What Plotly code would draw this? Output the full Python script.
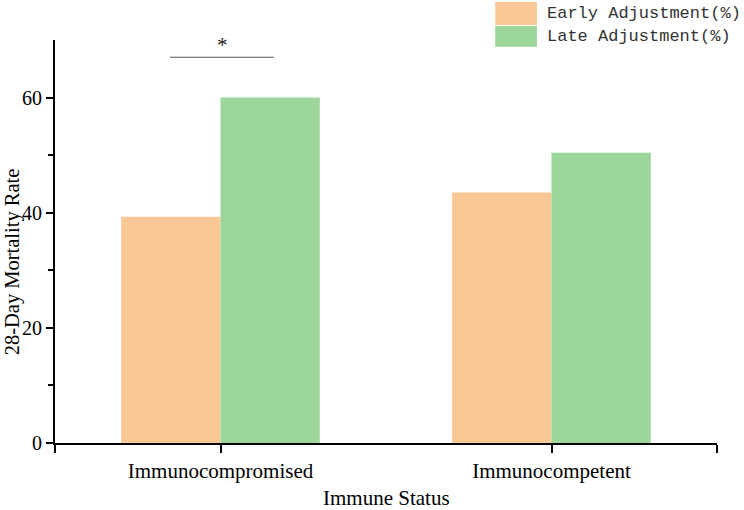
import plotly.graph_objects as go

categories = ["Immunocompromised", "Immunocompetent"]
early = [39.3, 43.5]
late = [60.0, 50.4]
series_names = ["Early Adjustment(%)", "Late Adjustment(%)"]
colors = ["#FAC896", "#9DD69A"]

fig = go.Figure()
fig.add_bar(x=categories, y=early, name=series_names[0], marker=dict(color=colors[0], line=dict(width=0)), showlegend=False)
fig.add_bar(x=categories, y=late, name=series_names[1], marker=dict(color=colors[1], line=dict(width=0)), showlegend=False)

serif = "Liberation Serif"
fig.update_layout(
    width=744, height=510,
    margin=dict(l=55, r=27, t=40, b=67),
    paper_bgcolor="white", plot_bgcolor="white",
    barmode="group", bargap=0.4, bargroupgap=0,
    font=dict(family=serif, size=21, color="black"),
)
fig.update_xaxes(
    range=[-0.5, 1.5], showline=True, linecolor="black", linewidth=2,
    ticks="outside", ticklen=8, tickwidth=2, tickcolor="black",
    tickmode="array", tickvals=[-0.5, 0, 1, 1.5], ticktext=["", categories[0], categories[1], ""],
    showgrid=False, zeroline=False, automargin=False,
    tickfont=dict(size=21),
)
fig.update_yaxes(
    range=[0, 70], showline=True, linecolor="black", linewidth=2,
    ticks="outside", ticklen=7, tickwidth=2, tickcolor="black",
    tickvals=[0, 20, 40, 60], showgrid=False, zeroline=False, automargin=False,
    minor=dict(tickvals=[10, 30, 50], ticks="outside", ticklen=5, tickwidth=2, tickcolor="black"),
    tickfont=dict(size=20),
)

# axis titles
fig.add_annotation(xref="paper", yref="paper", x=-0.0645, y=0.449, text="28-Day Mortality Rate",
                   textangle=-90, showarrow=False, xanchor="center", yanchor="middle", borderpad=0,
                   font=dict(size=20.5, family=serif))
fig.add_annotation(xref="paper", yref="paper", x=0.5, y=-0.136, text="Immune Status",
                   showarrow=False, xanchor="center", yanchor="middle", borderpad=0,
                   font=dict(size=21, family=serif))

# significance marker
fig.add_shape(type="line", xref="x", yref="y", x0=-0.153, x1=0.161, y0=67, y1=67,
              line=dict(color="#555", width=1.2))
fig.add_annotation(x=0.005, y=67, xref="x", yref="y", text="*", showarrow=False,
                   yanchor="bottom", yshift=-2, font=dict(size=21, family=serif, color="#222"))

# manual legend
mono = "Liberation Mono"
legend_rows = [(1.094, 1.037), (1.035, 0.983)]
for (y1, y0), name, col in zip(legend_rows, series_names, colors):
    fig.add_shape(type="rect", xref="paper", yref="paper", x0=0.665, x1=0.728, y0=y0, y1=y1,
                  fillcolor=col, line=dict(width=0))
    fig.add_annotation(xref="paper", yref="paper", x=0.741, y=(y0 + y1) / 2, text=name,
                       showarrow=False, xanchor="left", yanchor="middle", borderpad=0,
                       font=dict(family=mono, size=17, color="#333"))

fig.write_html("out.html")
